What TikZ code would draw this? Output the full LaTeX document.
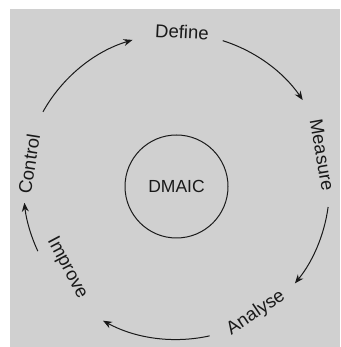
\documentclass[tikz,border=0pt]{standalone}
\usepackage{fontspec}
\setmainfont{Liberation Sans}
\usetikzlibrary{arrows.meta,calc}

\definecolor{panel}{RGB}{208,208,208}
\definecolor{ink}{RGB}{25,25,25}

\tikzset{
  phase/.style={font=\fontsize{18.5}{18.5}\selectfont, text=ink, inner sep=1pt},
  cycle arrow/.style={draw=ink, line width=1pt,
    -{Stealth[length=9pt,width=7pt]}},
  hub/.style={circle, draw=ink, line width=1pt, minimum size=103pt,
    font=\fontsize{17.5}{17.5}\selectfont, text=ink, inner sep=0pt}
}

\begin{document}
\begin{tikzpicture}[x=1pt,y=1pt]
  % canvas and grey panel
  \fill[white] (0,0) rectangle (340,347);
  \fill[panel] (10,0) rectangle (340,338);
  \useasboundingbox (0,0) rectangle (340,347);

  % centre of the cycle
  \coordinate (c) at (176.5,160.5);
  \def\R{153}

  % hub
  \node[hub] (dmaic) at (c) {DMAIC};

  % phase labels set along the ring
  \node[phase, rotate=-3]  (define)  at (182,315) {Define};
  \node[phase, rotate=-80] (measure) at (322,192) {Measure};
  \node[phase, rotate=34]  (analyse) at (256,34)  {Analyse};
  \node[phase, rotate=-62] (improve) at (67,79)   {Improve};
  \node[phase, rotate=81]  (control) at (29,183)  {Control};

  % arc ends, placed on the ring around the hub
  \coordinate (cd) at ($(c)+(150.8:\R)$);
  \coordinate (dm) at ($(c)+(72.4:\R)$);
  \coordinate (ma) at ($(c)+(-7.7:\R)$);
  \coordinate (ai) at ($(c)+(-77.5:\R)$);
  \coordinate (ic) at ($(c)+(-155:\R)$);

  % clockwise arrows between phases
  \draw[cycle arrow] (cd) arc[start angle=150.8, end angle=106.7, radius=\R];
  \draw[cycle arrow] (dm) arc[start angle=72.4,  end angle=34.4,  radius=\R];
  \draw[cycle arrow] (ma) arc[start angle=-7.7,  end angle=-39.3, radius=\R];
  \draw[cycle arrow] (ai) arc[start angle=-77.5, end angle=-118.7, radius=\R];
  \draw[cycle arrow] (ic) arc[start angle=-155,  end angle=-173.9, radius=\R];
\end{tikzpicture}
\end{document}
